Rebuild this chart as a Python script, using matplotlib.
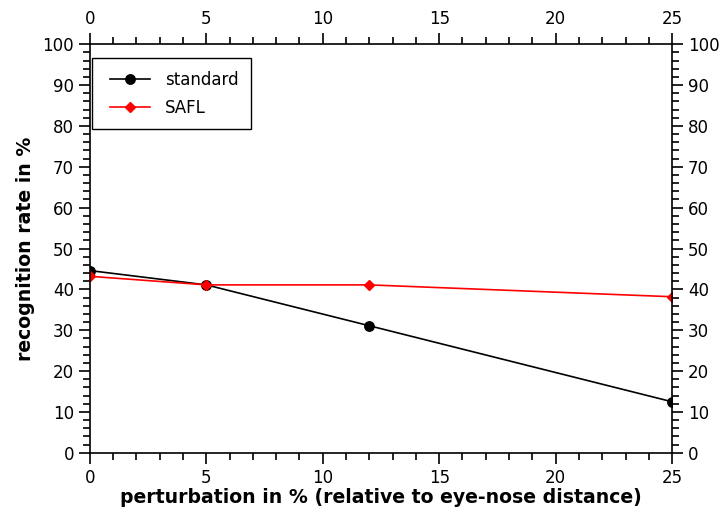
import matplotlib.pyplot as plt
from matplotlib.ticker import MultipleLocator
from matplotlib.legend_handler import HandlerLine2D

# values
perturbation = [0, 5, 12, 25]
standard = [44.6, 41.1, 31.1, 12.5]
safl = [43.2, 41.1, 41.1, 38.2]

fig = plt.figure(figsize=(7.25, 5.14), dpi=100)
ax = fig.add_axes([0.124, 0.119, 0.803, 0.795])

l1, = ax.plot(perturbation, standard, color="black", lw=1.2, marker="o", ms=6.8, label="standard")
l2, = ax.plot(perturbation, safl, color="red", lw=1.2, marker="D", ms=5.5, label="SAFL")

ax.set_xlim(0, 25)
ax.set_ylim(0, 100)
ax.xaxis.set_major_locator(MultipleLocator(5))
ax.xaxis.set_minor_locator(MultipleLocator(1))
ax.yaxis.set_major_locator(MultipleLocator(10))
ax.yaxis.set_minor_locator(MultipleLocator(2))

ax.tick_params(which="both", direction="out", top=True, right=True,
               labeltop=True, labelright=True, labelsize=12, width=1.2)
ax.tick_params(which="major", length=8)
ax.tick_params(which="minor", length=5)
for s in ax.spines.values():
    s.set_linewidth(1.2)

ax.set_xlabel("perturbation in % (relative to eye-nose distance)", fontsize=13.6,
              fontweight="bold", labelpad=1)
ax.set_ylabel("recognition rate in %", fontsize=13.6, fontweight="bold", labelpad=5)

leg = ax.legend(loc="upper left", bbox_to_anchor=(0.004, 0.966), fontsize=12,
                fancybox=False, framealpha=1, edgecolor="black",
                borderpad=0.75, borderaxespad=0, handlelength=2.7,
                handletextpad=0.9, labelspacing=0.6,
                handler_map={l1: HandlerLine2D(xpad=0.3), l2: HandlerLine2D(xpad=0.3)})
leg.get_frame().set_linewidth(1.0)

fig.savefig("out.png", dpi=100)
